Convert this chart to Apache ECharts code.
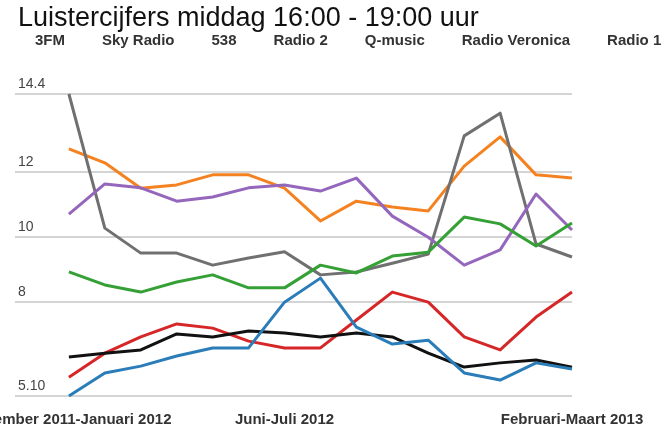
<!DOCTYPE html>
<html>
<head>
<meta charset="utf-8">
<script src="https://cdn.jsdelivr.net/npm/echarts@6/dist/echarts.min.js"></script>
<style>
html,body{margin:0;padding:0;background:#fff;}
#chart{width:664px;height:430px;}
</style>
</head>
<body>
<div id="chart"></div>
<script>
const periods = [
  'December 2011-Januari 2012', 'Januari-Februari 2012', 'Februari-Maart 2012',
  'Maart-April 2012', 'April-Mei 2012', 'Mei-Juni 2012', 'Juni-Juli 2012',
  'Juli-Augustus 2012', 'Augustus-September 2012', 'September-Oktober 2012',
  'Oktober-November 2012', 'November-December 2012', 'December 2012-Januari 2013',
  'Januari-Februari 2013', 'Februari-Maart 2013'
];
const shownPeriodIdx = [0, 6, 14];

const fm3        = [12.71, 12.28, 11.50, 11.60, 11.91, 11.91, 11.50, 10.49, 11.10, 10.92, 10.80, 12.18, 13.08, 11.91, 11.81];
const skyRadio   = [14.40, 10.27, 9.50, 9.50, 9.13, 9.35, 9.54, 8.83, 8.92, 9.19, 9.47, 13.11, 13.81, 9.78, 9.38];
const r538       = [10.70, 11.63, 11.51, 11.10, 11.23, 11.51, 11.60, 11.41, 11.81, 10.64, 9.99, 9.13, 9.60, 11.32, 10.21];
const radio2     = [8.92, 8.52, 8.30, 8.61, 8.83, 8.43, 8.43, 9.13, 8.89, 9.41, 9.53, 10.61, 10.40, 9.72, 10.43];
const qmusic     = [5.68, 6.42, 6.92, 7.32, 7.19, 6.79, 6.58, 6.58, 7.44, 8.30, 7.99, 6.92, 6.52, 7.53, 8.30];
const veronica   = [6.30, 6.42, 6.52, 7.01, 6.92, 7.10, 7.04, 6.92, 7.04, 6.92, 6.42, 5.99, 6.12, 6.21, 5.99];
const radio1     = [5.10, 5.81, 6.02, 6.33, 6.58, 6.58, 7.99, 8.73, 7.22, 6.70, 6.82, 5.81, 5.59, 6.12, 5.93];

const stationNames = ['3FM', 'Sky Radio', '538', 'Radio 2', 'Q-music', 'Radio Veronica', 'Radio 1'];
const stationValues = [fm3, skyRadio, r538, radio2, qmusic, veronica, radio1];
const stationColors = ['#f58220', '#707070', '#9467bd', '#35a035', '#d62728', '#111111', '#2a7db8'];

const yTickValues = [5.1, 8, 10, 12, 14.4];
const yTickLabels = ['5.10', '8', '10', '12', '14.4'];

const chart = echarts.init(document.getElementById('chart'));
const series = stationNames.map((name, s) => ({
  name: name,
  type: 'line',
  data: stationValues[s].map((v, i) => [i, v]),
  showSymbol: false,
  symbol: 'none',
  lineStyle: { width: 3, color: stationColors[s], join: 'round' },
  itemStyle: { color: stationColors[s] },
  emphasis: { disabled: true },
  animation: false
}));

chart.setOption({
  animation: false,
  title: {
    text: 'Luistercijfers middag 16:00 - 19:00 uur',
    left: 13,
    top: 0,
    textStyle: { fontFamily: 'Liberation Sans, Arial, sans-serif', fontSize: 27, fontWeight: 'normal', color: '#111' }
  },
  legend: {
    data: stationNames,
    left: 30,
    top: 33,
    icon: 'none',
    itemWidth: 0,
    itemHeight: 0,
    itemGap: 32,
    padding: 0,
    textStyle: { fontFamily: 'Liberation Sans, Arial, sans-serif', fontSize: 15, fontWeight: 'bold', color: '#333' }
  },
  grid: { left: 15, right: 92, top: 94, bottom: 34, containLabel: false, outerBoundsMode: 'none' },
  xAxis: {
    type: 'value',
    min: -1.5,
    max: 14,
    axisLine: { show: false },
    axisTick: { show: false },
    splitLine: { show: false },
    axisLabel: {
      customValues: shownPeriodIdx,
      formatter: v => periods[Math.round(v)] || '',
      fontFamily: 'Liberation Sans, Arial, sans-serif',
      fontSize: 15,
      fontWeight: 'bold',
      color: '#333',
      margin: 16,
      showMinLabel: true,
      showMaxLabel: true,
      hideOverlap: false
    }
  },
  yAxis: {
    type: 'value',
    min: 5.1,
    max: 14.4,
    axisLine: { show: false },
    axisTick: { show: false, customValues: yTickValues },
    splitLine: { show: true, lineStyle: { color: '#d4d4d4', width: 2 } },
    axisLabel: {
      customValues: yTickValues,
      inside: true,
      margin: 3,
      verticalAlign: 'bottom',
      padding: [0, 0, 3, 0],
      formatter: v => {
        const k = yTickValues.findIndex(t => Math.abs(t - v) < 1e-6);
        return k >= 0 ? yTickLabels[k] : '';
      },
      fontFamily: 'Liberation Sans, Arial, sans-serif',
      fontSize: 14,
      color: '#444',
      showMinLabel: true,
      showMaxLabel: true
    }
  },
  series: series
});
</script>
</body>
</html>
